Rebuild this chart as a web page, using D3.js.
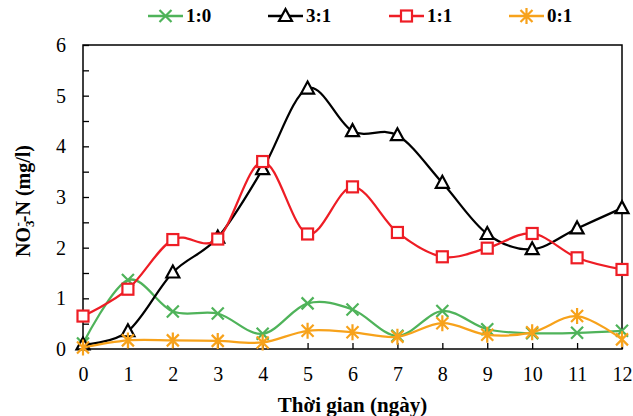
<!DOCTYPE html>
<html lang="en">
<head>
<meta charset="UTF-8"/>
<title>NO3-N</title>
<style>
  body { margin: 0; background: #fff; }
  svg text { font-family: "Liberation Serif", "Times New Roman", serif; }
</style>
</head>
<body>
<svg id="chart" width="633" height="416"></svg>
<script src="https://d3js.org/d3.v7.min.js"></script>
<script>
// days on the x axis
var days = [0, 1, 2, 3, 4, 5, 6, 7, 8, 9, 10, 11, 12];
var yTicks = [0, 1, 2, 3, 4, 5, 6];

// series values (mg/l)
var s10 = [0.11, 1.36, 0.74, 0.70, 0.30, 0.90, 0.78, 0.26, 0.75, 0.39, 0.31, 0.32, 0.36];
var s31 = [0.09, 0.35, 1.51, 2.20, 3.55, 5.14, 4.30, 4.22, 3.28, 2.27, 1.97, 2.38, 2.78];
var s11 = [0.65, 1.18, 2.16, 2.17, 3.70, 2.27, 3.20, 2.30, 1.82, 1.99, 2.28, 1.80, 1.57];
var s01 = [0.03, 0.17, 0.17, 0.16, 0.13, 0.36, 0.33, 0.24, 0.51, 0.28, 0.33, 0.65, 0.19];

var seriesNames = ["1:0", "3:1", "1:1", "0:1"];
var seriesData = [s10, s31, s11, s01];
var seriesColors = ["#4fb35a", "#000000", "#ee1d25", "#f7a21b"];
var seriesMarks = ["cross", "triangle", "square", "star"];

var svg = d3.select("#chart");
var pl = 83, pr = 622, pt = 45, pb = 349;

var x = d3.scaleLinear().domain([0, 12]).range([pl, pr]);
var y = d3.scaleLinear().domain([0, 6]).range([pb, pt]);

// frame
svg.append("rect")
    .attr("x", pl).attr("y", pt)
    .attr("width", pr - pl).attr("height", pb - pt)
    .attr("fill", "none").attr("stroke", "#000").attr("stroke-width", 1.5);

// y axis, inside ticks every 0.5
var yAxis = d3.axisLeft(y).tickValues(d3.range(0, 6.01, 0.5))
    .tickSizeInner(-6).tickSizeOuter(0)
    .tickFormat(function (d) { return yTicks.indexOf(d) >= 0 ? d : ""; });
var gy = svg.append("g").attr("transform", "translate(" + pl + ",0)").call(yAxis);
gy.select(".domain").remove();
gy.selectAll("line").attr("stroke", "#000").attr("stroke-width", 1.3);
gy.selectAll("text").attr("x", -17).attr("font-size", 20).attr("fill", "#000");

// x axis, inside ticks
var xAxis = d3.axisBottom(x).tickValues(days).tickSizeInner(-6).tickSizeOuter(0);
var gx = svg.append("g").attr("transform", "translate(0," + pb + ")").call(xAxis);
gx.select(".domain").remove();
gx.selectAll("line").attr("stroke", "#000").attr("stroke-width", 1.3);
gx.selectAll("text").attr("y", 18).attr("font-size", 20).attr("fill", "#000");

// axis titles
svg.append("text")
    .attr("x", (pl + pr) / 2).attr("y", 412)
    .attr("text-anchor", "middle").attr("font-size", 21).attr("font-weight", "bold")
    .text("Thời gian (ngày)");

var yt = svg.append("text")
    .attr("transform", "translate(30," + ((pt + pb) / 2 + 4) + ") rotate(-90)")
    .attr("text-anchor", "middle").attr("font-size", 20).attr("font-weight", "bold");
yt.append("tspan").text("NO");
yt.append("tspan").attr("font-size", 13).attr("dy", 4).text("3");
yt.append("tspan").attr("font-size", 13).attr("dx", -6).attr("dy", -12).text("-");
yt.append("tspan").attr("dy", 8).text("-N (mg/l)");

var line = d3.line()
    .x(function (d, i) { return x(days[i]); })
    .y(function (d) { return y(d); })
    .curve(d3.curveCardinal.tension(0));

function drawMark(g, kind, color) {
    if (kind === "cross") {
        g.append("path").attr("d", "M-6,-6L6,6M-6,6L6,-6")
            .attr("stroke", color).attr("stroke-width", 2.2).attr("fill", "none");
    } else if (kind === "triangle") {
        g.append("path").attr("d", "M0,-7L6.5,5L-6.5,5Z")
            .attr("stroke", color).attr("stroke-width", 2.2).attr("fill", "#fff");
    } else if (kind === "square") {
        g.append("rect").attr("x", -5.5).attr("y", -5.5).attr("width", 11).attr("height", 11)
            .attr("stroke", color).attr("stroke-width", 2.2).attr("fill", "#fff");
    } else {
        g.append("path").attr("d", "M-6,-6L6,6M-6,6L6,-6M0,-8L0,8")
            .attr("stroke", color).attr("stroke-width", 2.2).attr("fill", "none");
    }
}

seriesData.forEach(function (vals, k) {
    svg.append("path").datum(vals)
        .attr("d", line)
        .attr("fill", "none")
        .attr("stroke", seriesColors[k])
        .attr("stroke-width", 2.25);
    vals.forEach(function (v, i) {
        var g = svg.append("g").attr("transform", "translate(" + x(days[i]) + "," + y(v) + ")");
        drawMark(g, seriesMarks[k], seriesColors[k]);
    });
});

// legend
var legX = [148, 268, 389, 509];
seriesNames.forEach(function (name, k) {
    var g = svg.append("g").attr("transform", "translate(" + legX[k] + ",16)");
    g.append("line").attr("x1", 0).attr("x2", 35).attr("y1", 0).attr("y2", 0)
        .attr("stroke", seriesColors[k]).attr("stroke-width", 2.5);
    var m = g.append("g").attr("transform", "translate(17.5,0)");
    drawMark(m, seriesMarks[k], seriesColors[k]);
    g.append("text").attr("x", 38).attr("y", 6)
        .attr("font-size", 19).attr("font-weight", "bold").text(name);
});
</script>
</body>
</html>
